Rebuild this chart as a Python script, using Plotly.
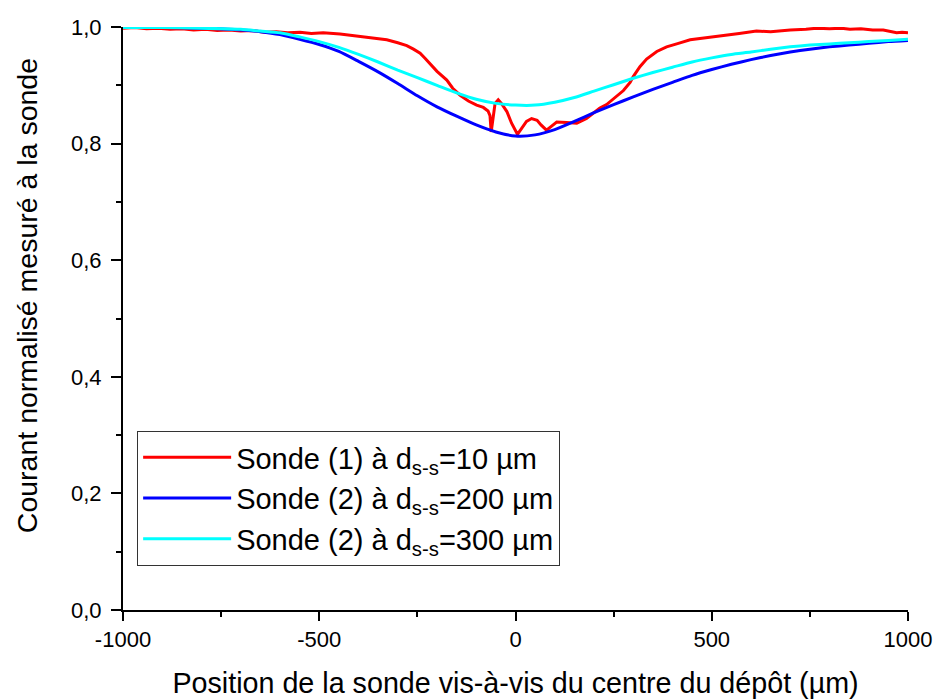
import plotly.graph_objects as go

# Sonde (1) à d_s-s = 10 µm (red, measured)
red_x = [-1000, -970, -940, -910, -880, -850, -820, -790, -760, -730, -700, -670, -640, -610,
         -580, -549, -520, -490, -447, -420, -379, -350, -328, -300, -277, -260, -243, -230,
         -218, -200, -175, -160, -141, -120, -99, -82, -70, -65, -62, -58, -52, -44, -35, -22,
         -10, 5, 15, 28, 41, 55, 65, 79, 92, 105, 130, 156, 181, 198, 215, 232, 249, 275, 292,
         300, 317, 334, 360, 385, 415, 445, 490, 529, 570, 614, 650, 700, 740, 767, 800, 830,
         852, 880, 910, 937, 955, 971, 985, 1000]
red_y = [0.998, 0.999, 0.997, 0.998, 0.996, 0.997, 0.995, 0.996, 0.994, 0.995, 0.993, 0.994,
         0.991, 0.992, 0.990, 0.991, 0.989, 0.990, 0.988, 0.986, 0.982, 0.980, 0.978, 0.973,
         0.968, 0.962, 0.955, 0.946, 0.937, 0.924, 0.909, 0.895, 0.883, 0.873, 0.866, 0.862,
         0.856, 0.848, 0.820, 0.840, 0.869, 0.875, 0.868, 0.855, 0.835, 0.816, 0.826, 0.838,
         0.843, 0.840, 0.832, 0.823, 0.830, 0.837, 0.836, 0.835, 0.843, 0.852, 0.861, 0.867,
         0.876, 0.891, 0.905, 0.915, 0.932, 0.945, 0.958, 0.966, 0.972, 0.978, 0.982, 0.986,
         0.989, 0.993, 0.992, 0.995, 0.996, 0.998, 0.997, 0.998, 0.996, 0.997, 0.995, 0.995,
         0.992, 0.990, 0.991, 0.990]

# Sonde (2) à d_s-s = 200 µm (blue)
blue_x = [-1000, -900, -800, -700, -650, -600, -550, -500, -450, -400, -350, -300, -250, -200,
          -150, -100, -50, 0, 50, 100, 150, 200, 250, 300, 350, 400, 450, 500, 550, 600, 650,
          700, 750, 800, 850, 900, 950, 1000]
blue_y = [0.999, 0.999, 0.998, 0.995, 0.992, 0.987, 0.979, 0.970, 0.958, 0.941, 0.923, 0.903,
          0.882, 0.863, 0.847, 0.832, 0.820, 0.813, 0.815, 0.824, 0.838, 0.853, 0.867, 0.880,
          0.893, 0.905, 0.917, 0.927, 0.936, 0.944, 0.951, 0.957, 0.962, 0.966, 0.969, 0.972,
          0.975, 0.977]

# Sonde (2) à d_s-s = 300 µm (cyan)
cyan_x = [-1000, -900, -800, -700, -650, -600, -550, -500, -450, -400, -350, -300, -250, -200,
          -150, -100, -50, 0, 50, 100, 150, 200, 250, 300, 350, 400, 450, 500, 550, 600, 650,
          700, 750, 800, 850, 900, 950, 1000]
cyan_y = [0.999, 0.999, 0.998, 0.996, 0.993, 0.990, 0.983, 0.975, 0.965, 0.953, 0.940, 0.926,
          0.913, 0.900, 0.887, 0.876, 0.869, 0.866, 0.866, 0.871, 0.879, 0.890, 0.901, 0.912,
          0.922, 0.931, 0.940, 0.947, 0.953, 0.957, 0.962, 0.966, 0.969, 0.971, 0.973, 0.975,
          0.977, 0.979]

x_ticks = [-1000, -500, 0, 500, 1000]
x_ticklabels = ["-1000", "-500", "0", "500", "1000"]
y_ticks = [0.0, 0.2, 0.4, 0.6, 0.8, 1.0]
y_ticklabels = ["0,0", "0,2", "0,4", "0,6", "0,8", "1,0"]
x_minor = [-750, -250, 250, 750]
y_minor = [0.1, 0.3, 0.5, 0.7, 0.9]

x_title = "Position de la sonde vis-à-vis du centre du dépôt (µm)"
y_title = "Courant normalisé mesuré à la sonde"

FONT = "Liberation Sans, Arial, sans-serif"

fig = go.Figure()
fig.add_trace(go.Scatter(x=red_x, y=red_y, mode="lines",
                         line=dict(color="#FF0000", width=3),
                         name="Sonde (1) à d<sub>s-s</sub>=10 µm"))
fig.add_trace(go.Scatter(x=blue_x, y=blue_y, mode="lines", line_shape="spline",
                         line=dict(color="#0000FF", width=3, smoothing=0.6),
                         name="Sonde (2) à d<sub>s-s</sub>=200 µm"))
fig.add_trace(go.Scatter(x=cyan_x, y=cyan_y, mode="lines", line_shape="spline",
                         line=dict(color="#00FFFF", width=3, smoothing=0.6),
                         name="Sonde (2) à d<sub>s-s</sub>=300 µm"))

fig.update_layout(
    width=935, height=700,
    margin=dict(l=123, r=27, t=27, b=90),
    paper_bgcolor="white", plot_bgcolor="white",
    font=dict(family=FONT, color="black"),
    showlegend=True,
    legend=dict(x=0.018, y=0.307, xanchor="left", yanchor="top",
                bordercolor="#333333", borderwidth=1, bgcolor="white",
                font=dict(size=29, family=FONT), tracegroupgap=0, itemwidth=88),
    annotations=[dict(text=y_title, xref="paper", yref="paper", x=-0.1223, y=0.540,
                      xanchor="center", yanchor="middle", textangle=-90, showarrow=False,
                      font=dict(size=28.5, family=FONT, color="black"))],
)
fig.update_xaxes(
    range=[-1000, 1000], showgrid=False, zeroline=False,
    showline=True, linecolor="black", linewidth=2,
    ticks="outside", ticklen=9, tickwidth=2, tickcolor="black",
    tickvals=x_ticks, ticktext=x_ticklabels, tickfont=dict(size=22),
    minor=dict(tickvals=x_minor, ticks="outside", ticklen=5, tickwidth=2, tickcolor="black"),
    title=dict(text=x_title, font=dict(size=28.7), standoff=22),
    automargin=False,
)
fig.update_yaxes(
    range=[0, 1.0], showgrid=False, zeroline=False,
    showline=True, linecolor="black", linewidth=2,
    ticks="outside", ticklen=10, tickwidth=2, tickcolor="black",
    tickvals=y_ticks, ticktext=y_ticklabels, tickfont=dict(size=22),
    ticklabelstandoff=5,
    minor=dict(tickvals=y_minor, ticks="outside", ticklen=5, tickwidth=2, tickcolor="black"),
    automargin=False,
)

fig.write_html("out.html", post_script="document.body.style.margin='0';",
               config={"displayModeBar": False})
